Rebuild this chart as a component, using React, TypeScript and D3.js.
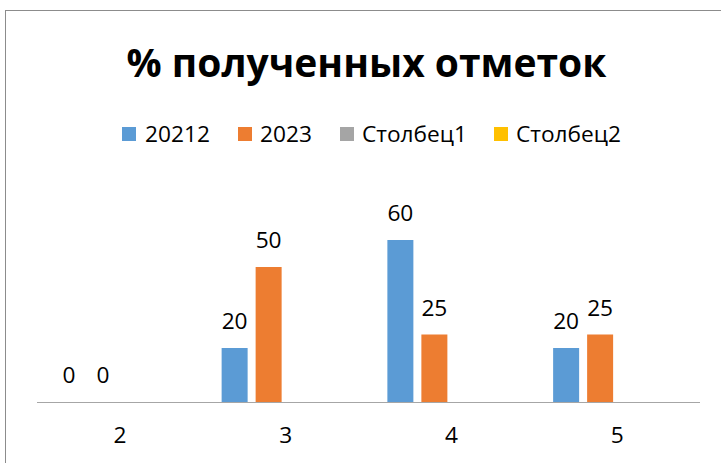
import React from "react";
import * as d3 from "d3";

const categories = ["2", "3", "4", "5"];
const seriesNames = ["20212", "2023", "Столбец1", "Столбец2"];
const series2021 = [0, 20, 60, 20];
const series2023 = [0, 50, 25, 25];
const seriesCol1: (number | null)[] = [null, null, null, null];
const seriesCol2: (number | null)[] = [null, null, null, null];
const colors = ["#5B9BD5", "#ED7D31", "#A5A5A5", "#FFC000"];

const W = 721;
const H = 463;
const FONT = "'Open Sans', sans-serif";
const FS = 22.7;

export default function App() {
  const plotLeft = 37;
  const plotRight = 700;
  const axisY = 402;
  const x = d3.scaleBand<string>().domain(categories).range([plotLeft, plotRight]).paddingInner(0).paddingOuter(0);
  const y = d3.scaleLinear().domain([0, 60]).range([axisY, 240]);
  const groupW = 128;
  const inner = d3
    .scaleBand<string>()
    .domain(seriesNames)
    .range([0, groupW])
    .paddingInner(8 / 34)
    .paddingOuter(0);

  const allSeries = [series2021, series2023, seriesCol1, seriesCol2];

  const legendItems = [
    { sq: 122, tx: 145 },
    { sq: 238, tx: 260 },
    { sq: 340, tx: 362 },
    { sq: 494, tx: 516 },
  ];

  return (
    <svg
      width={W}
      height={H}
      style={{ position: "absolute", left: 0, top: 0, background: "#fff" }}
    >
      <rect x={5.5} y={10.5} width={730} height={470} fill="#fff" stroke="#8c8c8c" strokeWidth={1} />
      <text
        x={366.5}
        y={77}
        textAnchor="middle"
        fontFamily={FONT}
        fontWeight={700}
        fontSize={39}
        fill="#000"
      >
        % полученных отметок
      </text>
      {seriesNames.map((s, i) => (
        <g key={s}>
          <rect x={legendItems[i].sq} y={127} width={14} height={14} fill={colors[i]} />
          <text x={legendItems[i].tx} y={142} fontFamily={FONT} fontSize={FS} fill="#000">
            {s}
          </text>
        </g>
      ))}
      {allSeries.map((vals, si) =>
        vals.map((v, ci) => {
          if (v === null) return null;
          const cx = (x(categories[ci]) as number) + x.bandwidth() / 2 - groupW / 2;
          const bx = cx + (inner(seriesNames[si]) as number);
          const bw = inner.bandwidth();
          return (
            <g key={`${si}-${ci}`}>
              {v > 0 && (
                <rect x={bx} y={y(v)} width={bw} height={axisY - y(v)} fill={colors[si]} />
              )}
              <text
                x={bx + bw / 2}
                y={y(v) - 19}
                textAnchor="middle"
                fontFamily={FONT}
                fontSize={FS}
                fill="#000"
              >
                {v}
              </text>
            </g>
          );
        })
      )}
      <line x1={plotLeft} x2={plotRight} y1={axisY + 0.5} y2={axisY + 0.5} stroke="#a6a6a6" strokeWidth={1} />
      {categories.map((c) => (
        <text
          key={c}
          x={(x(c) as number) + x.bandwidth() / 2}
          y={443}
          textAnchor="middle"
          fontFamily={FONT}
          fontSize={FS}
          fill="#000"
        >
          {c}
        </text>
      ))}
    </svg>
  );
}
